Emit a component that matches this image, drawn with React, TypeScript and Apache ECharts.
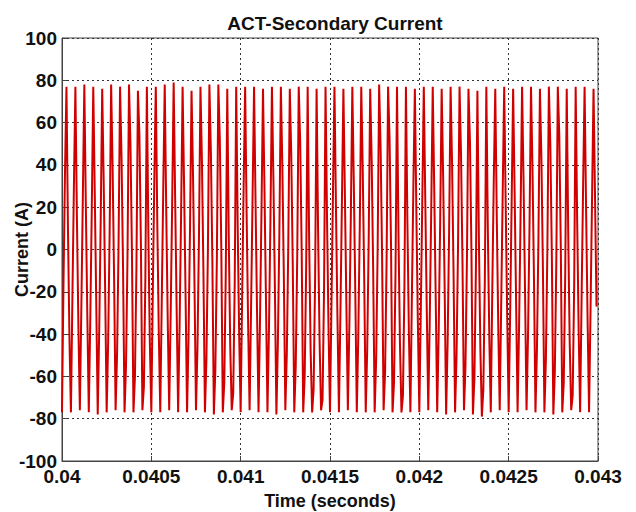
import React, { useEffect, useRef } from "react";
import * as echarts from "echarts";

// Reading of the waveform, one entry per cycle (60 cycles between 0.04 s and 0.043 s)
const T_START = 0.04;
const CYCLE = 0.00005; // seconds per cycle (60 cycles in 3 ms)

const peaks = [
  77, 77, 78, 77, 76, 78, 77, 78, 75, 77,
  77, 78, 79, 77, 75, 77, 78, 78, 76, 77,
  77, 77, 76, 77, 77, 76, 77, 77, 76, 77,
  77, 76, 77, 77, 76, 78, 77, 77, 77, 76,
  77, 77, 76, 77, 77, 76, 75, 77, 76, 77,
  76, 77, 77, 76, 77, 77, 76, 77, 77, 76,
];
const troughs = [
  -77, -77, -76, -77, -78, -77, -76, -77, -77, -76,
  -77, -77, -76, -77, -77, -76, -77, -78, -77, -76,
  -77, -76, -77, -77, -78, -76, -77, -77, -77, -76,
  -77, -77, -76, -77, -77, -77, -76, -77, -77, -77,
  -77, -76, -77, -78, -77, -76, -78, -79, -77, -76,
  -77, -77, -76, -77, -77, -78, -77, -76, -77, -77,
];
// kinks (sample points) on the rising edge: lower and upper
const riseLow = [
  -16, -22, -27, -33, -38, -44, -49, -55, -60, -65,
  -19, -24, -30, -35, -41, -46, -52, -57, -63, -68,
  -22, -27, -33, -38, -44, -49, -55, -60, -66, -71,
  -25, -30, -36, -41, -47, -52, -58, -63, -69, -22,
  -28, -33, -39, -44, -50, -55, -61, -66, -19, -25,
  -30, -36, -41, -47, -52, -58, -63, -69, -22, -28,
];
const riseHigh = [
  36, 30, 25, 19, 14, 8, 3, -3, -8, -13,
  33, 28, 22, 17, 11, 6, 0, -5, -11, -16,
  30, 25, 19, 14, 8, 3, -3, -8, -14, -19,
  27, 22, 16, 11, 5, 0, -6, -11, -17, 30,
  24, 19, 13, 8, 2, -3, -9, -14, 33, 27,
  22, 16, 11, 5, 0, -6, -11, -17, 30, 24,
];
// kinks on the falling edge: upper and lower
const fallHigh = [
  10, 16, 21, 27, 32, 38, 43, 49, 54, 8,
  13, 19, 24, 30, 35, 41, 46, 52, 6, 11,
  17, 22, 28, 33, 39, 44, 50, 4, 9, 15,
  20, 26, 31, 37, 42, 48, 53, 7, 12, 18,
  23, 29, 34, 40, 45, 51, 5, 10, 16, 21,
  27, 32, 38, 43, 49, 54, 8, 14, 19, 25,
];
const fallLow = [
  -42, -36, -31, -25, -20, -14, -9, -3, 2, -44,
  -39, -33, -28, -22, -17, -11, -6, 0, -46, -41,
  -35, -30, -24, -19, -13, -8, -2, -48, -43, -37,
  -32, -26, -21, -15, -10, -4, 1, -45, -40, -34,
  -29, -23, -18, -12, -7, -1, -47, -42, -36, -31,
  -25, -20, -14, -9, -3, 2, -44, -38, -33, -27,
];

const xTickLabels = ["0.04", "0.0405", "0.041", "0.0415", "0.042", "0.0425", "0.043"];
const yTickLabels = ["-100", "-80", "-60", "-40", "-20", "0", "20", "40", "60", "80", "100"];

function buildSeries(): [number, number][] {
  const pts: [number, number][] = [];
  for (let i = 0; i < peaks.length; i++) {
    const t0 = T_START + i * CYCLE;
    const vals = [troughs[i], riseLow[i], riseHigh[i], peaks[i], fallHigh[i], fallLow[i]];
    vals.forEach((v, k) => pts.push([t0 + (k * CYCLE) / 6, v]));
  }
  return pts;
}

const FONT = "'Liberation Sans', Arial, sans-serif";

export default function App() {
  const ref = useRef<HTMLDivElement>(null);
  useEffect(() => {
    if (!ref.current) return;
    const chart = echarts.init(ref.current, null, { renderer: "svg" });
    const data = buildSeries();
    chart.setOption({
      animation: false,
      backgroundColor: "#ffffff",
      title: {
        text: "ACT-Secondary Current",
        left: 330,
        top: 9,
        textAlign: "center",
        textStyle: { fontFamily: FONT, fontSize: 19, fontWeight: "bold", color: "#111" },
      },
      grid: {
        left: 62,
        right: 38,
        top: 38,
        bottom: 51,
        containLabel: false,
        outerBoundsMode: "none",
        show: true,
        borderColor: "#444",
        borderWidth: 1,
        backgroundColor: "transparent",
      },
      xAxis: {
        type: "value",
        min: 0.04,
        max: 0.043,
        interval: 0.0005,
        name: "Time (seconds)",
        nameLocation: "middle",
        nameGap: 31,
        nameMoveOverlap: false,
        nameTextStyle: { fontFamily: FONT, fontSize: 18, fontWeight: "bold", color: "#111" },
        axisLine: { show: true, onZero: false, lineStyle: { color: "#444" } },
        axisTick: { show: true, inside: true, length: 5, lineStyle: { color: "#444" } },
        axisLabel: {
          fontFamily: FONT,
          fontSize: 19,
          fontWeight: "bold",
          color: "#111",
          margin: 6,
          formatter: (v: number) => {
            const idx = Math.round((v - 0.04) / 0.0005);
            return xTickLabels[idx] ?? "";
          },
        },
        splitLine: { show: true, lineStyle: { color: "#333", type: [2, 3], width: 1 } },
      },
      yAxis: {
        type: "value",
        min: -100,
        max: 100,
        interval: 20,
        name: "Current (A)",
        nameLocation: "middle",
        nameGap: 31,
        nameMoveOverlap: false,
        nameTextStyle: { fontFamily: FONT, fontSize: 18, fontWeight: "bold", color: "#111" },
        axisLine: { show: true, onZero: false, lineStyle: { color: "#444" } },
        axisTick: { show: true, inside: true, length: 5, lineStyle: { color: "#444" } },
        axisLabel: {
          fontFamily: FONT,
          fontSize: 19,
          fontWeight: "bold",
          color: "#111",
          margin: 5,
          formatter: (v: number) => {
            const idx = Math.round((v + 100) / 20);
            return yTickLabels[idx] ?? "";
          },
        },
        splitLine: { show: true, lineStyle: { color: "#333", type: [2, 3], width: 1 } },
      },
      series: [
        {
          type: "line",
          data,
          showSymbol: false,
          lineStyle: { color: "#d00000", width: 2 },
          z: 3,
        },
      ],
    });
    return () => chart.dispose();
  }, []);
  return (
    <div
      ref={ref}
      style={{ position: "absolute", left: 0, top: 0, width: 636, height: 512 }}
    />
  );
}
